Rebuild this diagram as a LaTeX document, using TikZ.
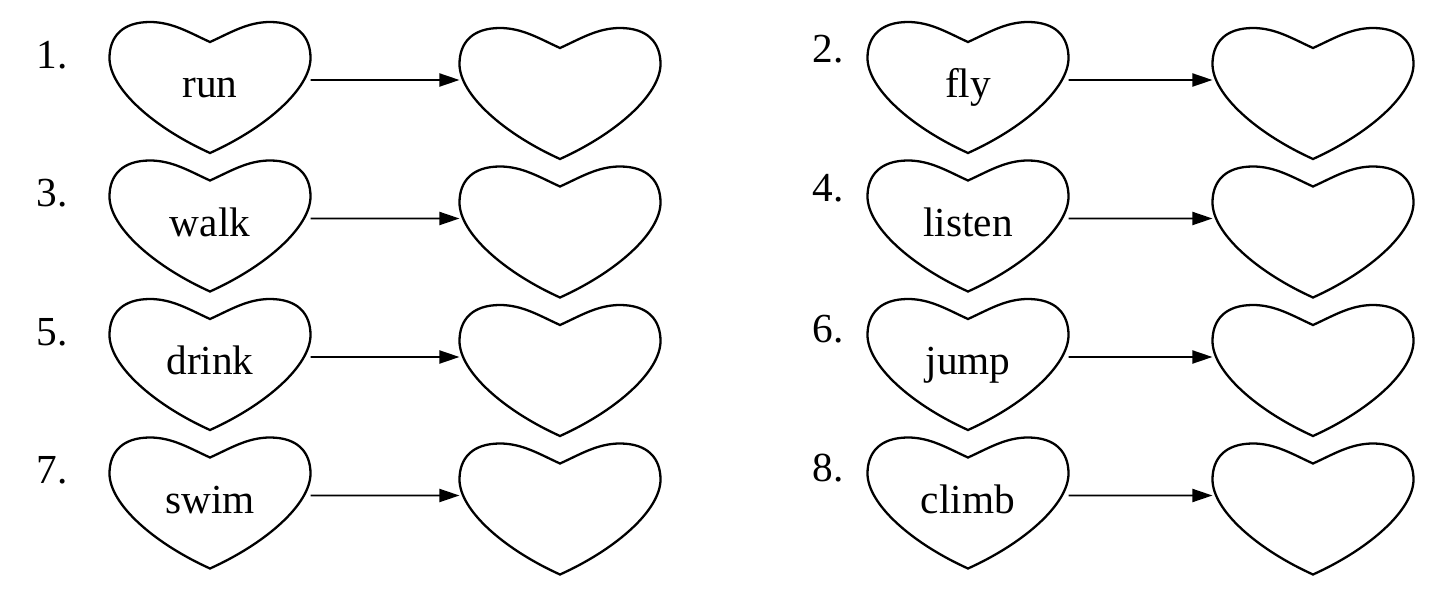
\documentclass[tikz,border=0pt]{standalone}
\usepackage{fontspec}
\setmainfont{Liberation Serif}
\usetikzlibrary{arrows.meta}

\tikzset{
  pics/heartline/.style={code={
    \draw[line width=1.3pt]
      (0,0.92) .. controls (-0.4,1.1) and (-0.75,1.32) .. (-1.2,1.32)
      .. controls (-1.76,1.32) and (-2.01,1.02) .. (-2.01,0.6)
      .. controls (-2.01,0.0) and (-1.15,-0.78) .. (0,-1.3)
      .. controls (1.15,-0.78) and (2.01,0.0) .. (2.01,0.6)
      .. controls (2.01,1.02) and (1.76,1.32) .. (1.2,1.32)
      .. controls (0.75,1.32) and (0.4,1.1) .. cycle;
  }}
}

\begin{document}
\begin{tikzpicture}[>={Triangle[length=4mm, width=2.6mm]}, semithick,
    heart/.style={minimum width=4cm, minimum height=2.6cm, inner sep=0pt,
      text height=0.45cm, text depth=0.05cm, font=\fontsize{23.5}{28}\selectfont},
    num/.style={font=\fontsize{23.5}{28}\selectfont},
    link/.style={->, line width=1.1pt}]
    \useasboundingbox (0,0) rectangle (28.88,-12.1);

    % left column
    \node[num] (n1) at (1.04,-1.10) {1.};
    \node[heart] (w1) at (4.2,-1.76) {run};
    \node[heart] (b1) at (11.2,-1.88) {};
    \node[num] (n3) at (1.04,-3.87) {3.};
    \node[heart] (w3) at (4.2,-4.53) {walk};
    \node[heart] (b3) at (11.2,-4.65) {};
    \node[num] (n5) at (1.04,-6.64) {5.};
    \node[heart] (w5) at (4.2,-7.30) {drink};
    \node[heart] (b5) at (11.2,-7.42) {};
    \node[num] (n7) at (1.04,-9.41) {7.};
    \node[heart] (w7) at (4.2,-10.07) {swim};
    \node[heart] (b7) at (11.2,-10.19) {};

    % right column
    \node[num] (n2) at (16.56,-0.98) {2.};
    \node[heart] (w2) at (19.36,-1.76) {fly};
    \node[heart] (b2) at (26.26,-1.88) {};
    \node[num] (n4) at (16.56,-3.77) {4.};
    \node[heart] (w4) at (19.36,-4.53) {listen};
    \node[heart] (b4) at (26.26,-4.65) {};
    \node[num] (n6) at (16.56,-6.58) {6.};
    \node[heart] (w6) at (19.36,-7.30) {jump};
    \node[heart] (b6) at (26.26,-7.42) {};
    \node[num] (n8) at (16.56,-9.37) {8.};
    \node[heart] (w8) at (19.36,-10.07) {climb};
    \node[heart] (b8) at (26.26,-10.19) {};

    \foreach \h in {w1,b1,w2,b2,w3,b3,w4,b4,w5,b5,w6,b6,w7,b7,w8,b8}
      \pic at (\h) {heartline};

    \foreach \k in {1,...,8}
      \draw[link] ([yshift=0.16cm]w\k.east) -- ([yshift=0.28cm]b\k.west);
\end{tikzpicture}
\end{document}
